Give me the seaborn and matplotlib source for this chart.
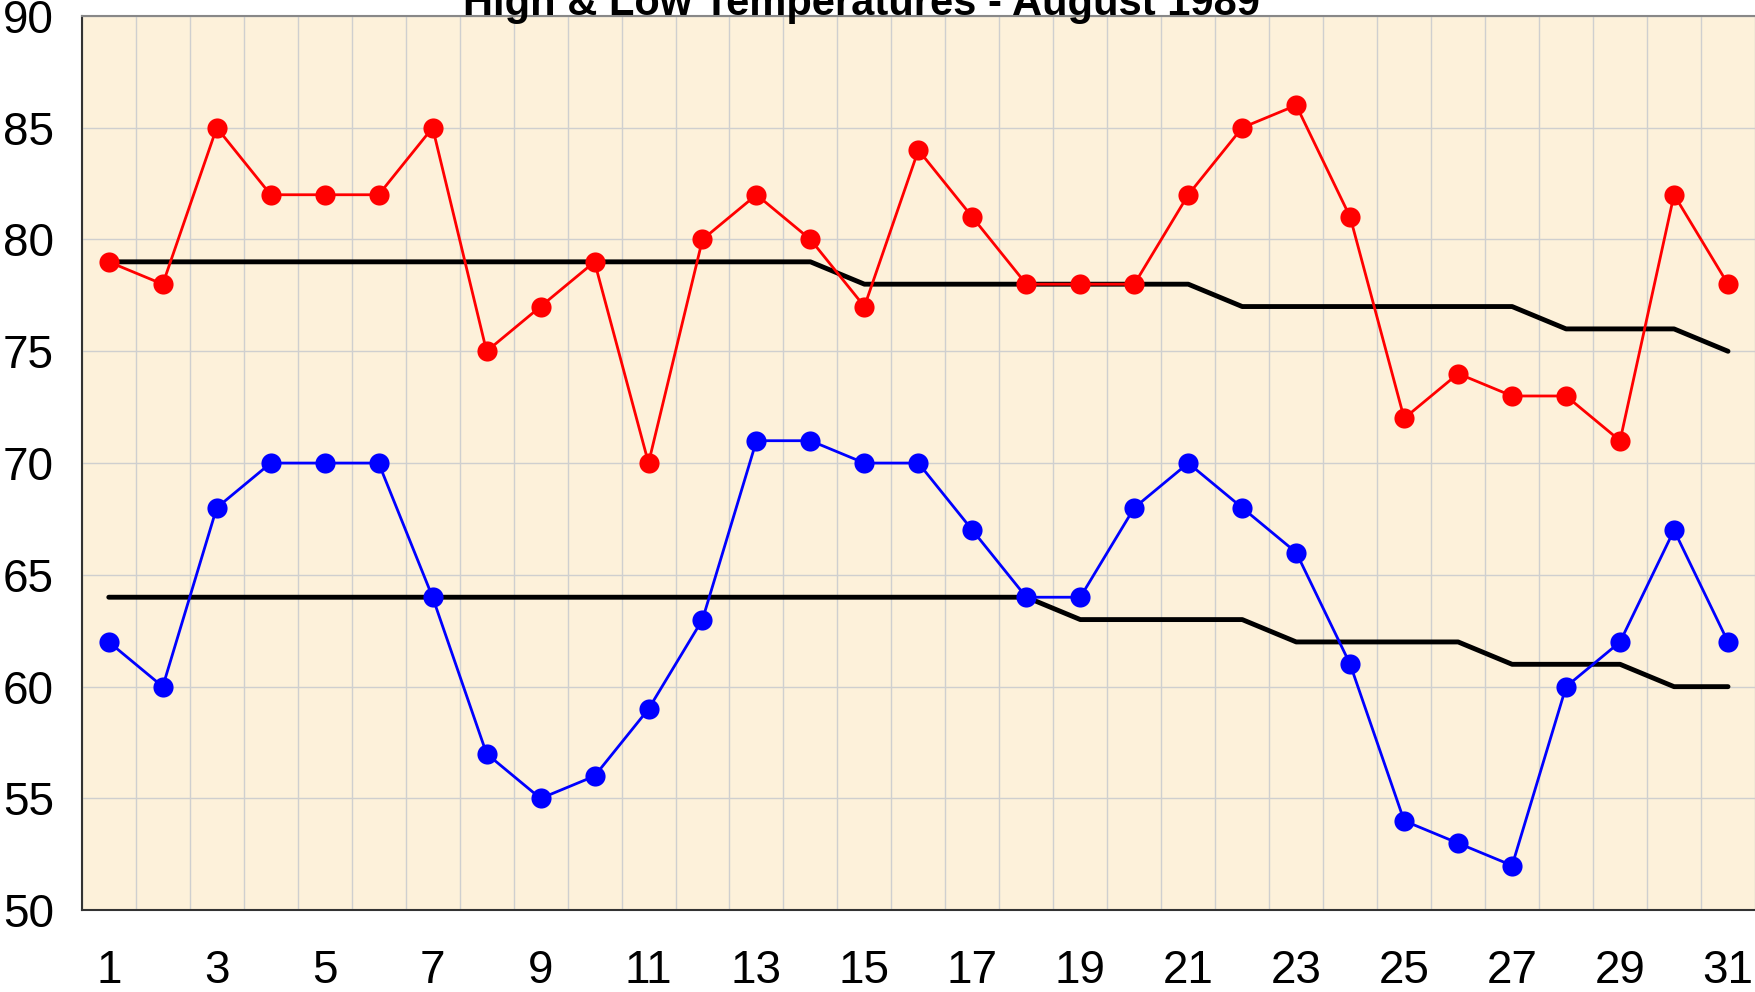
import numpy as np
import pandas as pd
import matplotlib
matplotlib.use("Agg")
import matplotlib.pyplot as plt
import seaborn as sns

# Daily data, August 1989
days = list(range(1, 32))
high = [79, 78, 85, 82, 82, 82, 85, 75, 77, 79, 70, 80, 82, 80, 77, 84,
        81, 78, 78, 78, 82, 85, 86, 81, 72, 74, 73, 73, 71, 82, 78]
low = [62, 60, 68, 70, 70, 70, 64, 57, 55, 56, 59, 63, 71, 71, 70, 70,
       67, 64, 64, 68, 70, 68, 66, 61, 54, 53, 52, 60, 62, 67, 62]
normal_high = [79] * 14 + [78] * 7 + [77] * 6 + [76] * 3 + [75]
normal_low = [64] * 18 + [63] * 4 + [62] * 4 + [61] * 3 + [60] * 2

df = pd.DataFrame({"Day": days, "High": high, "Low": low,
                   "NormHigh": normal_high, "NormLow": normal_low})

sns.set_style("white")
plt.rcParams["font.family"] = ["Liberation Sans", "DejaVu Sans"]

fig = plt.figure(figsize=(17.55, 9.92), dpi=100)
ax = fig.add_axes([0.0466, 0.0824, 0.9534, 0.9016])
ax.set_facecolor("#fdf1da")

# normals
sns.lineplot(data=df, x="Day", y="NormHigh", color="black", lw=3.5, ax=ax, zorder=3)
sns.lineplot(data=df, x="Day", y="NormLow", color="black", lw=3.5, ax=ax, zorder=3)

# highs and lows
sns.lineplot(data=df, x="Day", y="High", color="#ff0000", lw=2, marker="o",
             markersize=14.5, markeredgewidth=0, ax=ax, zorder=4)
sns.lineplot(data=df, x="Day", y="Low", color="#0000ff", lw=2, marker="o",
             markersize=14.5, markeredgewidth=0, ax=ax, zorder=4)

ax.set_xlim(0.5, 31.5)
ax.set_ylim(50, 90)
ax.set_xlabel("")
ax.set_ylabel("")

# labels on odd days, ticks + grid at day boundaries
ax.set_xticks(days[::2])
ax.set_xticklabels([str(d) for d in days[::2]], fontsize=33, color="black")
ax.set_xticks(np.arange(0.5, 32, 1), minor=True)
ax.tick_params(axis="x", which="major", length=0, pad=28)
ax.tick_params(axis="x", which="minor", length=9, width=1, color="#333333", direction="out")

ax.set_yticks(range(50, 91, 5))
ax.set_yticklabels([str(v) for v in range(50, 91, 5)], fontsize=33, color="black")
ax.tick_params(axis="y", length=9, width=1, color="#333333", direction="out", pad=11)

ax.grid(True, axis="y", which="major", color="#cfcfcf", lw=1)
ax.grid(True, axis="x", which="minor", color="#cfcfcf", lw=1)
ax.grid(False, axis="x", which="major")
ax.set_axisbelow(True)

for side in ["left", "bottom"]:
    ax.spines[side].set_color("#333333")
    ax.spines[side].set_linewidth(1.5)
ax.spines["top"].set_color("#888888")
ax.spines["top"].set_linewidth(1.5)
ax.spines["right"].set_visible(False)

fig.text(0.491, 0.985, "High & Low Temperatures - August 1989", ha="center",
         va="baseline", fontsize=30, fontweight="bold", color="black")

fig.savefig("out.png", dpi=100)
